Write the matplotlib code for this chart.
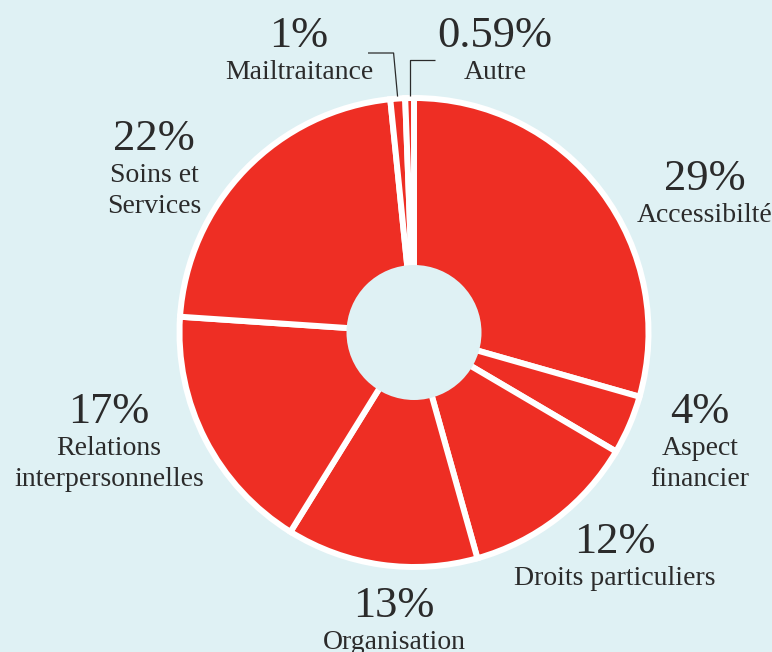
import numpy as np
import matplotlib
matplotlib.use("Agg")
import matplotlib.pyplot as plt
from matplotlib.patches import Circle

categories = ["Accessibilté", "Aspect\nfinancier", "Droits particuliers", "Organisation",
              "Relations\ninterpersonnelles", "Soins et\nServices", "Mailtraitance", "Autre"]
values = [29, 4, 12, 13, 17, 22, 1, 0.59]
pct_labels = ["29%", "4%", "12%", "13%", "17%", "22%", "1%", "0.59%"]

# label anchors in pixels from the top-left: (x centre, baseline of the percentage)
label_pos = [(705, 190), (700, 423), (615, 553), (394, 617),
             (109, 423), (154, 150), (299, 47), (495, 47)]

W, H = 772, 652
BG = "#dff1f4"
RED = "#ee2e24"
INK = "#2b2b2b"
cx, cy = 414, H - 332.5
R_OUT, R_IN = 234.5, 67.5

fig = plt.figure(figsize=(W / 100, H / 100), dpi=100, facecolor=BG)
ax = fig.add_axes([0, 0, 1, 1])
ax.set_facecolor(BG)

wedges, _ = ax.pie(values, startangle=90, counterclock=False, center=(cx, cy),
                   radius=R_OUT, colors=[RED] * len(values),
                   wedgeprops=dict(width=R_OUT - R_IN + 4, edgecolor="white",
                                   linewidth=4.3))
ax.add_patch(Circle((cx, cy), R_IN, facecolor=BG, edgecolor="none", zorder=5))

pct_font = dict(family="Liberation Serif", size=32, color=INK)
lab_font = dict(family="Liberation Serif", size=20, color=INK)

for (x, yb), pct, name in zip(label_pos, pct_labels, categories):
    ax.text(x, H - yb, pct, ha="center", va="baseline", **pct_font)
    for i, line in enumerate(name.split("\n")):
        ax.text(x, H - (yb + 32 + 31 * i), line, ha="center", va="baseline",
                **lab_font)

# leader lines for the two thin slices at the top
for w, x_end, y_elbow in [(wedges[6], 368, 53), (wedges[7], 435, 60)]:
    mid = np.deg2rad((w.theta1 + w.theta2) / 2)
    tip_x = cx + (R_OUT + 2) * np.cos(mid)
    tip_y = cy + (R_OUT + 2) * np.sin(mid)
    elbow_x = tip_x - 4 if x_end < tip_x else tip_x
    ax.plot([x_end, elbow_x, tip_x], [H - y_elbow, H - y_elbow, tip_y],
            color=INK, lw=0.9, solid_capstyle="butt")

ax.set_xlim(0, W)
ax.set_ylim(0, H)
ax.set_aspect("equal")
ax.axis("off")

fig.savefig("out.png", dpi=100, facecolor=BG)
